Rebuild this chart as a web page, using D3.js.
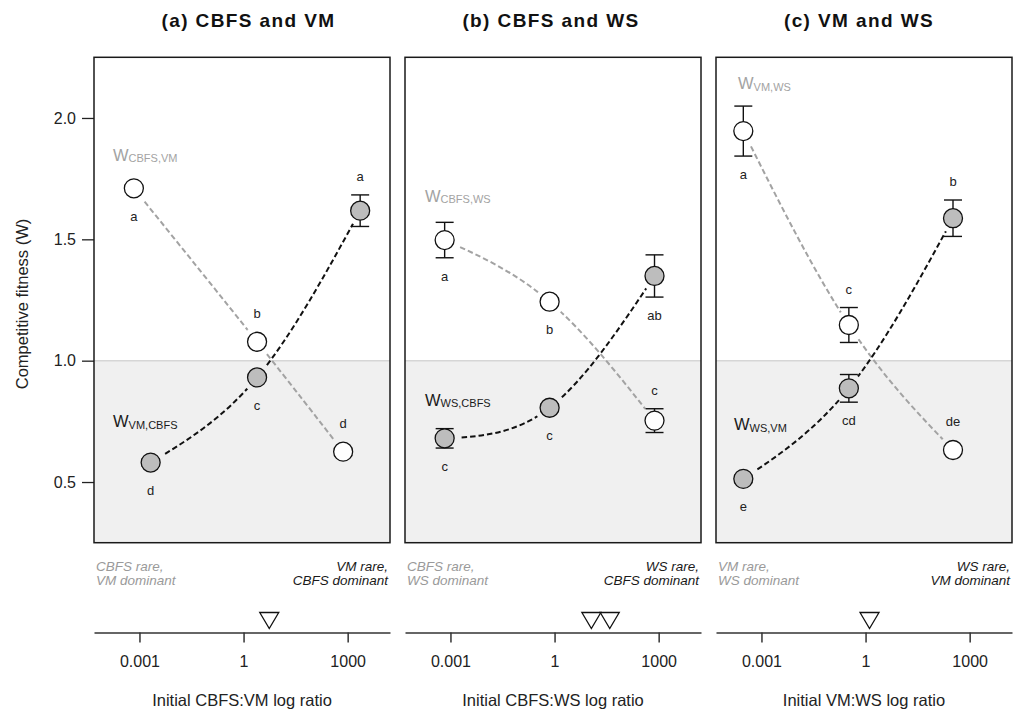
<!DOCTYPE html>
<html>
<head>
<meta charset="utf-8">
<script src="https://cdn.jsdelivr.net/npm/d3@7"></script>
<style>
  body { margin: 0; background: #fff; }
  text { font-family: "Liberation Sans", Arial, Helvetica, sans-serif; }
</style>
</head>
<body>
<svg id="chart" width="1019" height="716"></svg>
<script>
// ---- Panel text ----
const panelTitles = ["(a) CBFS and VM", "(b) CBFS and WS", "(c) VM and WS"];
const axisTitles = ["Initial CBFS:VM log ratio", "Initial CBFS:WS log ratio", "Initial VM:WS log ratio"];
const leftNotes = [["CBFS rare,", "VM dominant"], ["CBFS rare,", "WS dominant"], ["VM rare,", "WS dominant"]];
const rightNotes = [["VM rare,", "CBFS dominant"], ["WS rare,", "CBFS dominant"], ["WS rare,", "VM dominant"]];

// ---- Open-circle series: fitness of the first strain against the second ----
const openSub = ["CBFS,VM", "CBFS,WS", "VM,WS"];
const openRatio = [[0.00069, 2.45, 741], [0.00068, 0.72, 759], [0.0003, 0.33, 331]];
const openW = [[1.71, 1.078, 0.625], [1.497, 1.243, 0.753], [1.946, 1.147, 0.632]];
const openSE = [[0.015, 0.015, 0.015], [0.073, 0.015, 0.049], [0.103, 0.072, 0.015]];
const openLetters = [["a", "b", "d"], ["a", "b", "c"], ["a", "c", "de"]];
const openSide = [["below", "above", "above"], ["below", "below", "above"], ["below", "above", "above"]];

// ---- Filled-circle series: fitness of the second strain against the first ----
const filledSub = ["VM,CBFS", "WS,CBFS", "WS,VM"];
const filledRatio = [[0.0021, 2.45, 2291], [0.00068, 0.72, 759], [0.0003, 0.33, 331]];
const filledW = [[0.58, 0.931, 1.618], [0.680, 0.806, 1.349], [0.513, 0.886, 1.587]];
const filledSE = [[0.015, 0.015, 0.065], [0.04, 0.015, 0.087], [0.015, 0.057, 0.075]];
const filledLetters = [["d", "c", "a"], ["c", "c", "ab"], ["e", "cd", "b"]];
const filledSide = [["below", "below", "above"], ["below", "below", "below"], ["below", "below", "above"]];

// ---- Starting ratios marked on the lower axis ----
const markerRatios = [[5.5], [11.5, 38.9], [1.3]];

// ---- Axis ticks ----
const xTickValues = [0.001, 1, 1000];
const xTickLabels = ["0.001", "1", "1000"];
const yTickValues = [0.5, 1.0, 1.5, 2.0];
const yDomain = [0.25, 2.25];

// ---- Layout ----
const svg = d3.select("#chart");
const panelLeft = [94, 405, 716];
const panelW = 296;
const plotTop = 57.3, plotBottom = 542.7;
const titleX = [248.5, 551, 859];
const axisY = 632.5;
const R = 9.5;
const GAP = 15;
const openColor = "#a3a3a3";
const fillGrey = "#bdbdbd";

const y = d3.scaleLinear().domain(yDomain).range([plotBottom, plotTop]);

// shared y axis on the first panel
const yAxis = svg.append("g")
  .attr("transform", `translate(${panelLeft[0]},0)`)
  .call(d3.axisLeft(y).tickValues(yTickValues).tickFormat(d3.format(".1f")).tickSize(12).tickPadding(6));
yAxis.select(".domain").remove();
yAxis.selectAll(".tick line").attr("stroke", "#222").attr("stroke-width", 1.3);
yAxis.selectAll(".tick text").attr("font-size", 16).attr("fill", "#222")
  .attr("font-family", '"Liberation Sans", Arial, sans-serif');

svg.append("text")
  .attr("transform", `translate(28,${(plotTop + plotBottom) / 2 + 4}) rotate(-90)`)
  .attr("text-anchor", "middle")
  .attr("font-size", 16.5)
  .attr("fill", "#222")
  .text("Competitive fitness (W)");

const defs = svg.append("defs");

panelTitles.forEach((title, p) => {
  const x0 = panelLeft[p], x1 = x0 + panelW;
  const x = d3.scaleLog().domain([Math.pow(10, -4.31), Math.pow(10, 4.22)]).range([x0, x1]);
  const g = svg.append("g");

  // title
  g.append("text")
    .attr("x", titleX[p]).attr("y", 27)
    .attr("text-anchor", "middle")
    .attr("font-size", 19).attr("font-weight", "bold")
    .attr("letter-spacing", 1.4)
    .attr("fill", "#111")
    .text(title);

  // shaded region below W = 1
  g.append("rect")
    .attr("x", x0).attr("y", y(1)).attr("width", panelW).attr("height", plotBottom - y(1))
    .attr("fill", "#f0f0f0");
  g.append("line")
    .attr("x1", x0).attr("x2", x1).attr("y1", y(1)).attr("y2", y(1))
    .attr("stroke", "#d6d6d6").attr("stroke-width", 1.5);

  const series = [
    { key: "open", sub: openSub[p], ratio: openRatio[p], w: openW[p], se: openSE[p],
      letters: openLetters[p], side: openSide[p], fill: "#fff", line: openColor, label: openColor },
    { key: "filled", sub: filledSub[p], ratio: filledRatio[p], w: filledW[p], se: filledSE[p],
      letters: filledLetters[p], side: filledSide[p], fill: fillGrey, line: "#111", label: "#1a1a1a" }
  ].map(s => ({ ...s, pts: s.ratio.map((r, i) => ({ r, w: s.w[i], se: s.se[i], letter: s.letters[i], side: s.side[i] })) }));

  // dashed fitted curves, kept clear of the markers
  series.forEach(s => {
    const id = `gap-${p}-${s.key}`;
    const m = defs.append("mask").attr("id", id)
      .attr("maskUnits", "userSpaceOnUse").attr("x", 0).attr("y", 0).attr("width", 1019).attr("height", 716);
    m.append("rect").attr("x", 0).attr("y", 0).attr("width", 1019).attr("height", 716).attr("fill", "#fff");
    s.pts.forEach(d => m.append("circle").attr("cx", x(d.r)).attr("cy", y(d.w)).attr("r", GAP).attr("fill", "#000"));
    const line = d3.line().x(d => x(d.r)).y(d => y(d.w)).curve(d3.curveNatural);
    g.append("path")
      .datum(s.pts)
      .attr("d", line)
      .attr("fill", "none")
      .attr("stroke", s.line)
      .attr("stroke-width", 2)
      .attr("stroke-dasharray", "5.5,3")
      .attr("mask", `url(#${id})`);
  });

  // error bars, markers and significance letters
  series.forEach(s => {
    s.pts.forEach(d => {
      const cx = x(d.r), cy = y(d.w);
      const yt = y(d.w + d.se), yb = y(d.w - d.se);
      g.append("line").attr("x1", cx).attr("x2", cx).attr("y1", yt).attr("y2", yb)
        .attr("stroke", "#111").attr("stroke-width", 1.4);
      [yt, yb].forEach(v => g.append("line")
        .attr("x1", cx - 9).attr("x2", cx + 9).attr("y1", v).attr("y2", v)
        .attr("stroke", "#111").attr("stroke-width", 1.4));
      g.append("circle").attr("cx", cx).attr("cy", cy).attr("r", R)
        .attr("fill", s.fill).attr("stroke", "#111").attr("stroke-width", 1.3);
      const upper = Math.min(yt, cy - R), lower = Math.max(yb, cy + R);
      g.append("text")
        .attr("x", cx).attr("y", d.side === "above" ? upper - 14 : lower + 23)
        .attr("text-anchor", "middle")
        .attr("font-size", 13).attr("fill", "#222")
        .text(d.letter);
    });
  });

  // series names
  const nameY = [[160.7, 427], [201.7, 405.7], [89.3, 430]][p];
  const nameDX = [[19, 19], [20, 20], [22, 18]][p];
  series.forEach((s, k) => {
    const t = g.append("text")
      .attr("x", x0 + nameDX[k]).attr("y", nameY[k])
      .attr("fill", s.label);
    t.append("tspan").attr("font-size", 16.5).text("W");
    t.append("tspan").attr("font-size", 11).attr("dy", 1.5).text(s.sub);
  });

  // panel frame
  g.append("rect")
    .attr("x", x0).attr("y", plotTop).attr("width", panelW).attr("height", plotBottom - plotTop)
    .attr("fill", "none").attr("stroke", "#1a1a1a").attr("stroke-width", 1.5);

  // notes below the frame
  [[leftNotes[p], x0 + 2, "start", "#9a9a9a"], [rightNotes[p], x1 - 2, "end", "#1a1a1a"]]
    .forEach(([lines, tx, anchor, col]) => {
      lines.forEach((ln, i) => g.append("text")
        .attr("x", tx).attr("y", 571 + i * 14)
        .attr("text-anchor", anchor)
        .attr("font-size", 13.5).attr("font-style", "italic")
        .attr("fill", col)
        .text(ln));
    });

  // log-ratio axis
  const ax = g.append("g")
    .attr("transform", `translate(0,${axisY})`)
    .call(d3.axisBottom(x).tickValues(xTickValues)
      .tickFormat((d, i) => xTickLabels[i]).tickSize(10).tickSizeOuter(0).tickPadding(13));
  ax.select(".domain").attr("stroke", "#333").attr("stroke-width", 1.7);
  ax.selectAll(".tick line").attr("stroke", "#333").attr("stroke-width", 1.5);
  ax.selectAll(".tick text").attr("font-size", 16).attr("fill", "#222")
    .attr("font-family", '"Liberation Sans", Arial, sans-serif');

  // starting-ratio markers
  markerRatios[p].forEach(r => {
    const mx = x(r);
    g.append("path")
      .attr("d", `M${mx - 9.5},${axisY - 20}L${mx + 9.5},${axisY - 20}L${mx},${axisY - 4}Z`)
      .attr("fill", "#fff").attr("stroke", "#111").attr("stroke-width", 1.3);
  });

  g.append("text")
    .attr("x", (x0 + x1) / 2).attr("y", 706)
    .attr("text-anchor", "middle")
    .attr("font-size", 16.5).attr("fill", "#222")
    .text(axisTitles[p]);
});
</script>
</body>
</html>
